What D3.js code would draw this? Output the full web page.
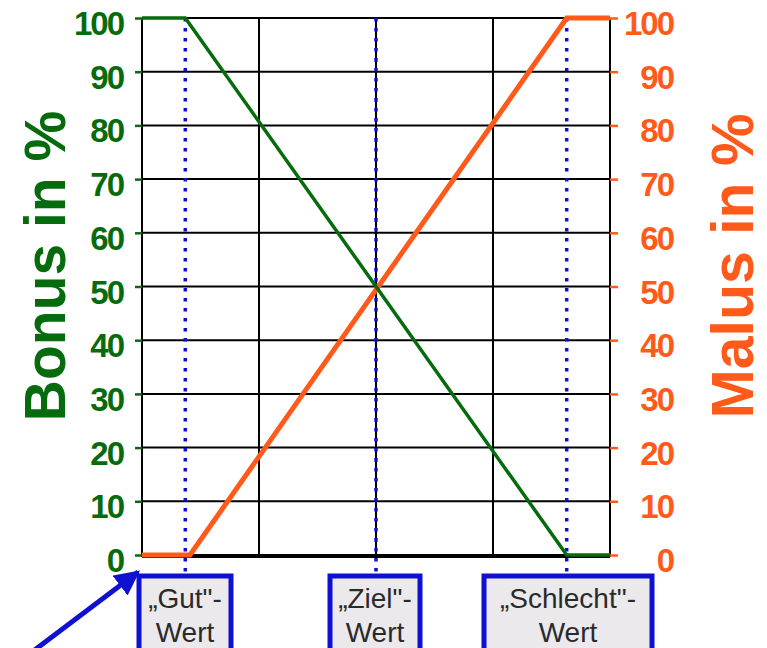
<!DOCTYPE html>
<html><head><meta charset="utf-8">
<script src="https://cdn.jsdelivr.net/npm/d3@7"></script>
<style>body{margin:0;background:#fff}svg{display:block}</style>
</head><body>
<script>
const yTicks = [0,10,20,30,40,50,60,70,80,90,100];
const gridCols = [0,1,2,3,4];
const markerPos = [0.37, 2, 3.63];
const markerLabels = [["„Gut\"-","Wert"],["„Ziel\"-","Wert"],["„Schlecht\"-","Wert"]];
const bonusX = [0, 0.37, 3.63, 4];
const bonusY = [100, 100, 0, 0];
const malusX = [0, 0.41, 3.63, 4];
const malusY = [0, 0, 100, 100];
const green = "#066b0c", orange = "#ff5a1a", blue = "#1010d0";
const FONT = "Liberation Sans, Arial, sans-serif";

const W = 767, H = 648;
const svg = d3.select("body").append("svg").attr("width", W).attr("height", H);
const x = d3.scaleLinear().domain([0,4]).range([142,610]);
const y = d3.scaleLinear().domain([0,100]).range([555,18]);

// grid
svg.append("g").selectAll("line").data(yTicks).join("line")
  .attr("x1", x(0)).attr("x2", x(4)).attr("y1", d=>y(d)).attr("y2", d=>y(d))
  .attr("stroke", "#000").attr("stroke-width", 2);
svg.append("g").selectAll("line").data(gridCols).join("line")
  .attr("x1", d=>x(d)).attr("x2", d=>x(d)).attr("y1", y(100)).attr("y2", y(0)+2)
  .attr("stroke", "#000").attr("stroke-width", 2);
svg.append("line").attr("x1", x(0)).attr("x2", x(4)).attr("y1", y(0)+2).attr("y2", y(0)+2)
  .attr("stroke","#000").attr("stroke-width",2);

// dotted markers
svg.append("g").selectAll("line").data(markerPos).join("line")
  .attr("x1", d=>x(d)).attr("x2", d=>x(d)).attr("y1", y(100)).attr("y2", 578)
  .attr("stroke", blue).attr("stroke-width", 3.5).attr("stroke-dasharray", "3.5,6.5");

// axes
const left = svg.append("g").attr("transform", `translate(${x(0)},0)`)
  .call(d3.axisLeft(y).tickValues(yTicks).tickSize(7).tickPadding(12));
left.select(".domain").remove();
left.selectAll("line").attr("stroke", green).attr("stroke-width", 2.5);
left.selectAll("text").attr("fill", green).attr("font-family", FONT)
  .attr("font-weight","bold").attr("font-size", 33).attr("letter-spacing", -2).attr("dy","0.5em");
const right = svg.append("g").attr("transform", `translate(${x(4)},0)`)
  .call(d3.axisRight(y).tickValues(yTicks).tickSize(8).tickPadding(55));
right.select(".domain").remove();
right.selectAll("line").attr("stroke", orange).attr("stroke-width", 2.5);
right.selectAll("text").attr("fill", orange).attr("font-family", FONT).attr("text-anchor","end")
  .attr("font-weight","bold").attr("font-size", 33).attr("letter-spacing", -2).attr("dy","0.5em");

// lines
const line = d3.line().x(d=>x(d[0])).y(d=>y(d[1]));
svg.append("path").attr("d", line(d3.zip(malusX, malusY))).attr("fill","none")
  .attr("stroke", orange).attr("stroke-width", 5);
svg.append("path").attr("d", line(d3.zip(bonusX, bonusY))).attr("fill","none")
  .attr("stroke", green).attr("stroke-width", 3.5);

// titles
svg.append("text").attr("transform", `translate(65,266) rotate(-90)`)
  .attr("text-anchor","middle").attr("fill", green).attr("font-family", FONT)
  .attr("font-weight","bold").attr("font-size", 57).text("Bonus in %");
svg.append("text").attr("transform", `translate(753,266) rotate(-90)`)
  .attr("text-anchor","middle").attr("fill", orange).attr("font-family", FONT)
  .attr("font-weight","bold").attr("font-size", 59).text("Malus in %");

// boxes
const boxW = [92, 90, 168];
const boxL = [139, 330, 484];
const bx = svg.append("g").selectAll("g").data(markerPos).join("g");
bx.append("rect").attr("x", (d,i)=>boxL[i]).attr("y", 576).attr("width", (d,i)=>boxW[i]).attr("height", 80)
  .attr("fill", "#ebe9ec").attr("stroke", blue).attr("stroke-width", 5);
bx.each(function(d,i){
  const g = d3.select(this);
  markerLabels[i].forEach((t,j)=>{
    g.append("text").attr("x", boxL[i]+boxW[i]/2).attr("y", 608 + j*34)
      .attr("text-anchor","middle").attr("fill","#2a2a2a").attr("font-family", FONT)
      .attr("font-size", 28).text(t);
  });
});

// arrow
svg.append("defs").append("marker").attr("id","ah").attr("viewBox","0 0 10 10")
  .attr("refX", 9).attr("refY", 5).attr("markerWidth", 5).attr("markerHeight", 5).attr("orient","auto")
  .attr("markerUnits","strokeWidth")
  .append("path").attr("d","M0,0 L10,5 L0,10 z").attr("fill", blue);
svg.append("line").attr("x1", 28).attr("y1", 655).attr("x2", 138).attr("y2", 572)
  .attr("stroke", blue).attr("stroke-width", 5).attr("marker-end","url(#ah)");
</script>
</body></html>
